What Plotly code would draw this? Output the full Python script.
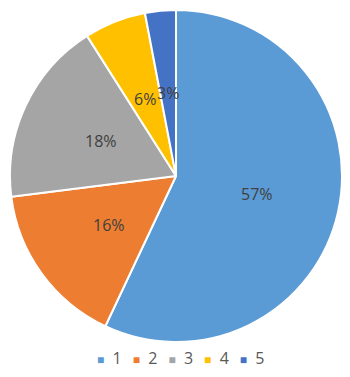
import math
import plotly.graph_objects as go

categories = ["1", "2", "3", "4", "5"]
values = [57, 16, 18, 6, 3]
colors = ["#5B9BD5", "#ED7D31", "#A5A5A5", "#FFC000", "#4472C4"]

W, H = 350, 377
ML, MR, MT, MB = 2, 16, 2, 43

FONT = "Open Sans, Liberation Sans, sans-serif"

fig = go.Figure()
fig.add_trace(go.Pie(
    labels=categories, values=values, sort=False, direction="clockwise",
    rotation=0, marker=dict(colors=colors, line=dict(color="white", width=2)),
    textinfo="none", hoverinfo="label+percent", showlegend=False,
))

# data labels at ~0.50 of the radius, angle derived from the data
total = sum(values)
annotations = []
cum = 0
for v in values:
    mid = (cum + v / 2) / total * 2 * math.pi
    cum += v
    rr = 0.50 * 0.5
    ax = 0.5 + rr * math.sin(mid)
    ay = 0.5 + rr * math.cos(mid)
    annotations.append(dict(
        x=ax, y=ay, xref="paper", yref="paper", showarrow=False,
        xanchor="center", yanchor="middle",
        text=f"{round(v / total * 100)}%",
        font=dict(family=FONT, size=16, color="#404040"),
    ))

# compact legend row built from the categories and colours
sep = "&nbsp;&nbsp;\u2009"
legend_text = sep.join(
    f"<span style='color:{c};font-size:12px'>■</span>&nbsp;&nbsp;{cat}"
    for cat, c in zip(categories, colors)
)
annotations.append(dict(
    x=0.515, y=-0.048, xref="paper", yref="paper", showarrow=False,
    xanchor="center", yanchor="middle", text=legend_text,
    font=dict(family=FONT, size=16, color="#595959"),
))

fig.update_layout(
    width=W, height=H,
    margin=dict(l=ML, r=MR, t=MT, b=MB, autoexpand=False),
    paper_bgcolor="white", plot_bgcolor="white",
    annotations=annotations,
    showlegend=False,
)
fig.write_html("out.html")
